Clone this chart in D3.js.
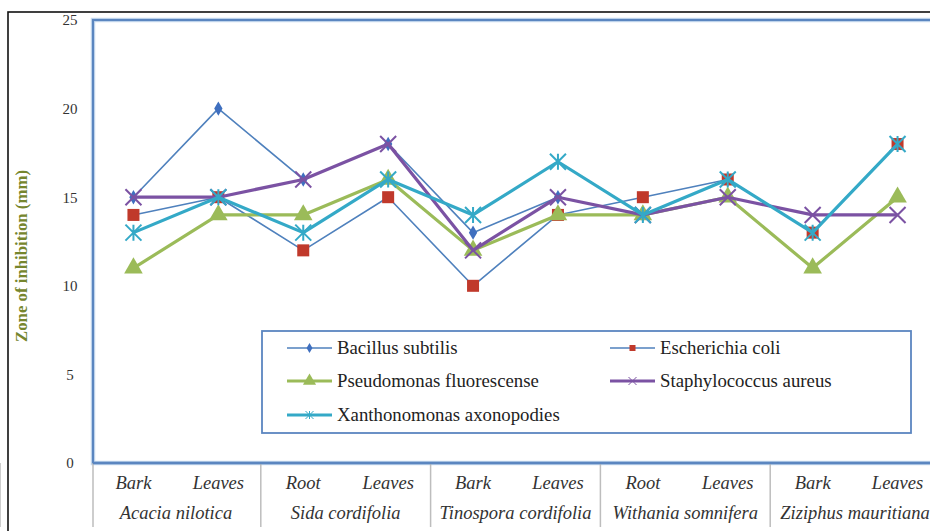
<!DOCTYPE html>
<html><head><meta charset="utf-8">
<script src="https://cdn.jsdelivr.net/npm/d3@7"></script>
<style>body{margin:0;background:#fff;overflow:hidden}svg{display:block}
svg text{font-family:'Liberation Serif','DejaVu Serif',serif}</style>
</head><body>
<svg id="chart" width="930" height="531"></svg>
<script>
const parts = ["Bark","Leaves","Root","Leaves","Bark","Leaves","Root","Leaves","Bark","Leaves"];
const plants = ["Acacia nilotica","Sida cordifolia","Tinospora cordifolia","Withania somnifera","Ziziphus mauritiana"];
const yTicks = [0,5,10,15,20,25];
const bacillus = [15,20,16,18,13,15,14,16,13,18];
const ecoli = [14,15,12,15,10,14,15,16,13,18];
const pseudo = [11,14,14,16,12,14,14,15,11,15];
const staph = [15,15,16,18,12,15,14,15,14,14];
const xantho = [13,15,13,16,14,17,14,16,13,18];
const seriesNames = ["Bacillus subtilis","Escherichia coli","Pseudomonas fluorescense","Staphylococcus aureus","Xanthonomonas axonopodies"];

const series = [
  {name:seriesNames[0], values:bacillus, line:"#4f81bd", lw:1.6, marker:"diamond", mc:"#3f6fbf"},
  {name:seriesNames[1], values:ecoli, line:"#4f81bd", lw:1.6, marker:"square", mc:"#c0392b"},
  {name:seriesNames[2], values:pseudo, line:"#9bbb59", lw:3.2, marker:"triangle", mc:"#9bbb59"},
  {name:seriesNames[3], values:staph, line:"#7b52a3", lw:3.2, marker:"x", mc:"#7b52a3"},
  {name:seriesNames[4], values:xantho, line:"#34a9c7", lw:3.2, marker:"star", mc:"#34a9c7"}
];

const svg = d3.select("#chart");
const pLeft = 93, pRight = 940, pTop = 20, pBottom = 463;
const x = d3.scaleBand().domain(d3.range(parts.length)).range([91, 940]);
const y = d3.scaleLinear().domain([0,25]).range([pBottom, pTop]);
const cx = i => x(i) + x.bandwidth()/2;

// outer frame
svg.append("rect").attr("x",8).attr("y",12).attr("width",940).attr("height",540)
  .attr("fill","none").attr("stroke","#111").attr("stroke-width",1.6);

// plot border (with light halo)
svg.append("rect").attr("x",pLeft).attr("y",pTop).attr("width",pRight-pLeft+20).attr("height",pBottom-pTop)
  .attr("fill","#fff").attr("stroke","#c9dcf0").attr("stroke-width",4.5);
svg.append("rect").attr("x",pLeft).attr("y",pTop).attr("width",pRight-pLeft+20).attr("height",pBottom-pTop)
  .attr("fill","none").attr("stroke","#5b86c0").attr("stroke-width",2.2);

// y axis ticks
const yAxis = d3.axisLeft(y).tickValues(yTicks).tickSize(0).tickPadding(0);
const yg = svg.append("g").attr("transform","translate(76,0)").call(yAxis);
yg.select(".domain").remove();
yg.attr("font-family",null).attr("font-size",null);
yg.selectAll("text").style("font-size","15px").attr("fill","#333").attr("text-anchor","middle").attr("dx",-6);

svg.append("text").attr("transform","translate(27,256) rotate(-90)")
  .attr("text-anchor","middle").style("font-size","16.8px").attr("font-weight","bold").attr("fill","#76862e")
  .text("Zone of inhibition (mm)");

// x axis category labels
const xAxis = d3.axisBottom(x).tickFormat(i => parts[i]).tickSize(0).tickPadding(0);
const xg = svg.append("g").attr("transform",`translate(0,${pBottom})`).call(xAxis);
xg.select(".domain").remove();
xg.attr("font-family",null).attr("font-size",null);
xg.selectAll("text").style("font-size","18.5px").attr("font-style","italic")
  .attr("fill","#333").attr("dy",26);

// group separators and group labels
const groupIdx = d3.range(plants.length);
svg.selectAll("line.sep").data(d3.range(plants.length+1)).enter().append("line")
  .attr("x1",g => g===0 ? pLeft : x(g*2)).attr("x2",g => g===0 ? pLeft : x(g*2))
  .attr("y1",pBottom).attr("y2",527).attr("stroke","#bdbdbd").attr("stroke-width",1.5);
svg.selectAll("text.grp").data(groupIdx).enter().append("text")
  .attr("x",g => (cx(g*2)+cx(g*2+1))/2).attr("y",519).attr("text-anchor","middle")
  .attr("font-style","italic").style("font-size","18.5px").attr("fill","#333").text(g => plants[g]);

// bottom axis line on top of separators
svg.append("line").attr("x1",pLeft).attr("x2",950).attr("y1",pBottom).attr("y2",pBottom)
  .attr("stroke","#5b86c0").attr("stroke-width",2.6);

function drawMarker(g, type, color, px, py, s){
  s = s || 1;
  if(type==="diamond"){
    g.append("path").attr("d",d3.symbol().type(d3.symbolDiamond).size(60*s)()).attr("transform",`translate(${px},${py})`).attr("fill",color);
  } else if(type==="square"){
    g.append("rect").attr("x",px-6*s).attr("y",py-6*s).attr("width",12*s).attr("height",12*s).attr("fill",color);
  } else if(type==="triangle"){
    g.append("path").attr("d",d3.symbol().type(d3.symbolTriangle).size(150*s)()).attr("transform",`translate(${px},${py})`).attr("fill",color);
  } else if(type==="x"){
    const r=8*s;
    g.append("path").attr("d",`M${px-r},${py-r}L${px+r},${py+r}M${px-r},${py+r}L${px+r},${py-r}`).attr("stroke",color).attr("stroke-width",2*s).attr("fill","none");
  } else if(type==="star"){
    const r=8*s;
    g.append("path").attr("d",`M${px-r},${py-r}L${px+r},${py+r}M${px-r},${py+r}L${px+r},${py-r}M${px},${py-r}L${px},${py+r}`).attr("stroke",color).attr("stroke-width",2*s).attr("fill","none");
  }
}

const line = d3.line().x((d,i)=>cx(i)).y(d=>y(d));
series.forEach(s => {
  const g = svg.append("g");
  g.append("path").datum(s.values).attr("d",line).attr("fill","none")
    .attr("stroke",s.line).attr("stroke-width",s.lw).attr("stroke-linejoin","round");
  s.values.forEach((v,i)=>drawMarker(g, s.marker, s.mc, cx(i), y(v)));
});

// legend
const lg = svg.append("g");
lg.append("rect").attr("x",262).attr("y",331).attr("width",649).attr("height",102)
  .attr("fill","#fff").attr("stroke","#5b86c0").attr("stroke-width",1.8);
const legPos = [[287,348],[610,348],[287,381],[610,381],[287,415]];
series.forEach((s,k)=>{
  const [lx,ly] = legPos[k];
  lg.append("line").attr("x1",lx).attr("x2",lx+45).attr("y1",ly).attr("y2",ly)
    .attr("stroke",s.line).attr("stroke-width",s.lw===1.6?1.6:3);
  drawMarker(lg, s.marker, s.mc, lx+22.5, ly, 0.5);
  lg.append("text").attr("x",lx+50).attr("y",ly+6).style("font-size","18.8px")
    .attr("fill","#222").text(s.name);
});
</script>
</body></html>
